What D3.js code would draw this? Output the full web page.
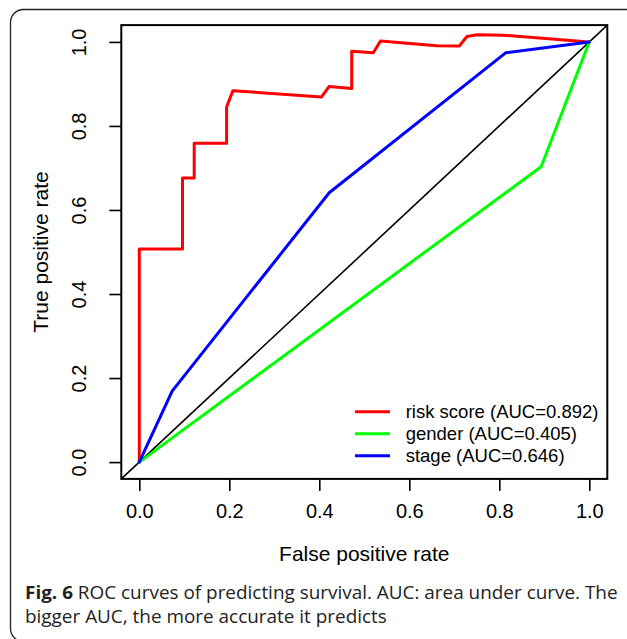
<!DOCTYPE html>
<html>
<head>
<meta charset="utf-8">
<script src="https://cdn.jsdelivr.net/npm/d3@7"></script>
<style>
  body { margin: 0; background: #fff; }
  svg { display: block; }
</style>
</head>
<body>
<svg id="svg"></svg>
<script>
// ROC curves, values
var riskFpr = [0, 0, 0.096, 0.096, 0.122, 0.122, 0.194, 0.194, 0.208, 0.405, 0.422, 0.472, 0.472, 0.52, 0.536, 0.661, 0.711, 0.728, 0.75, 0.809, 1];
var riskTpr = [0, 0.507, 0.507, 0.676, 0.676, 0.759, 0.759, 0.845, 0.884, 0.869, 0.894, 0.889, 0.978, 0.974, 1.002, 0.991, 0.99, 1.013, 1.017, 1.016, 1];
var genderFpr = [0, 0.893, 1];
var genderTpr = [0, 0.703, 1];
var stageFpr = [0, 0.073, 0.422, 0.814, 1];
var stageTpr = [0, 0.169, 0.641, 0.974, 1];

var seriesNames = ["risk score (AUC=0.892)", "gender (AUC=0.405)", "stage (AUC=0.646)"];
var seriesColors = ["#ff0000", "#00ff00", "#0000ff"];
var tickValues = [0, 0.2, 0.4, 0.6, 0.8, 1.0];

var width = 627,
	height = 639,
	font = "'Liberation Sans', Arial, sans-serif";

var svg = d3.select("#svg")
	.attr("width", width)
	.attr("height", height);

// outer rounded frame of the figure
svg.append("rect")
	.attr("x", 10.5).attr("y", 9.5)
	.attr("width", 660).attr("height", 632)
	.attr("rx", 13).attr("ry", 13)
	.attr("fill", "none")
	.attr("stroke", "#222")
	.attr("stroke-width", 1.3);

// R style: 4% padding around [0,1]
var x = d3.scaleLinear().domain([-0.04, 1.04]).range([121.3, 607.3]);
var y = d3.scaleLinear().domain([-0.04, 1.04]).range([478.9, 25.1]);

svg.append("clipPath").attr("id", "plotclip")
	.append("rect")
	.attr("x", x(-0.04)).attr("y", y(1.04))
	.attr("width", x(1.04) - x(-0.04))
	.attr("height", y(-0.04) - y(1.04));

var plot = svg.append("g").attr("clip-path", "url(#plotclip)");

// reference diagonal
plot.append("line")
	.attr("x1", x(-0.04)).attr("y1", y(-0.04))
	.attr("x2", x(1.04)).attr("y2", y(1.04))
	.attr("stroke", "#000")
	.attr("stroke-width", 1.6);

var line = d3.line()
	.x(function(d){ return x(d[0]); })
	.y(function(d){ return y(d[1]); });

var curves = [
	d3.zip(riskFpr, riskTpr),
	d3.zip(genderFpr, genderTpr),
	d3.zip(stageFpr, stageTpr)
];

plot.selectAll("path.roc")
	.data(curves)
	.enter()
	.append("path")
	.attr("class", "roc")
	.attr("d", line)
	.attr("fill", "none")
	.attr("stroke", function(d, i){ return seriesColors[i]; })
	.attr("stroke-width", 3)
	.attr("stroke-linejoin", "round")
	.attr("stroke-linecap", "round");

// axes
var xAxis = svg.append("g")
	.attr("transform", "translate(0," + y(-0.04) + ")")
	.call(d3.axisBottom(x).tickValues(tickValues).tickSize(12).tickFormat(d3.format(".1f")));

xAxis.select(".domain").remove();
xAxis.selectAll("line").attr("stroke", "#000").attr("stroke-width", 1.6);
xAxis.selectAll("text")
	.attr("y", 39.5)
	.attr("dy", 0)
	.attr("fill", "#000")
	.style("font-family", font)
	.style("font-size", "20px");

var yAxis = svg.append("g")
	.attr("transform", "translate(" + x(-0.04) + ",0)")
	.call(d3.axisLeft(y).tickValues(tickValues).tickSize(12).tickFormat(d3.format(".1f")));

yAxis.select(".domain").remove();
yAxis.selectAll("line").attr("stroke", "#000").attr("stroke-width", 1.6);
yAxis.selectAll("text")
	.attr("transform", "rotate(-90)")
	.attr("x", 0)
	.attr("y", 86 - x(-0.04))
	.attr("dy", 0)
	.attr("text-anchor", "middle")
	.attr("fill", "#000")
	.style("font-family", font)
	.style("font-size", "20px");

// plot box
svg.append("rect")
	.attr("x", x(-0.04)).attr("y", y(1.04))
	.attr("width", x(1.04) - x(-0.04))
	.attr("height", y(-0.04) - y(1.04))
	.attr("fill", "none")
	.attr("stroke", "#000")
	.attr("stroke-width", 2);

// axis titles
svg.append("text")
	.attr("x", (x(-0.04) + x(1.04)) / 2)
	.attr("y", 561)
	.attr("text-anchor", "middle")
	.style("font-family", font)
	.style("font-size", "21px")
	.text("False positive rate");

svg.append("text")
	.attr("transform", "translate(48," + (y(-0.04) + y(1.04)) / 2 + ") rotate(-90)")
	.attr("text-anchor", "middle")
	.style("font-family", font)
	.style("font-size", "21px")
	.text("True positive rate");

// legend
var legend = svg.append("g").attr("transform", "translate(355,411.7)");

var legendRow = legend.selectAll("g")
	.data(seriesNames)
	.enter()
	.append("g")
	.attr("transform", function(d, i){ return "translate(0," + i * 22 + ")"; });

legendRow.append("line")
	.attr("x1", 0).attr("x2", 35)
	.attr("stroke", function(d, i){ return seriesColors[i]; })
	.attr("stroke-width", 3);

legendRow.append("text")
	.attr("x", 50.7)
	.attr("y", 6.5)
	.style("font-family", font)
	.style("font-size", "18.5px")
	.text(function(d){ return d; });

// caption
var capFont = "'Open Sans', 'Noto Sans', sans-serif";
var capGroup = svg.append("g").attr("transform", "translate(25,0)");

var cap1 = capGroup.append("text")
	.attr("y", 599)
	.style("font-family", capFont)
	.style("font-size", "18px")
	.attr("fill", "#222");
cap1.append("tspan").attr("font-weight", "bold").text("Fig. 6");
cap1.append("tspan").text(" ROC curves of predicting survival. AUC: area under curve. The");

var cap2 = capGroup.append("text")
	.attr("y", 623)
	.style("font-family", capFont)
	.style("font-size", "18px")
	.attr("fill", "#222")
	.text("bigger AUC, the more accurate it predicts");

// squeeze the caption horizontally to the width it takes in the figure
var natural = cap1.node().getComputedTextLength();
var k = 593 / natural;
cap1.attr("transform", "scale(" + k + ",1)");
cap2.attr("transform", "scale(" + k + ",1)");
</script>
</body>
</html>
